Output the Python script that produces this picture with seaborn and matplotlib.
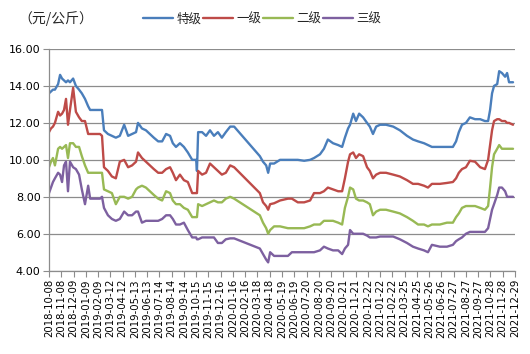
import numpy as np
import pandas as pd
import matplotlib
matplotlib.use("Agg")
import matplotlib.pyplot as plt
import seaborn as sns

# ---------------- data ----------------
start_date = "2018-10-08"
day_offsets = [0, 5, 10, 15, 23, 28, 33, 38, 43, 48, 53, 61, 68, 76, 83, 91, 99, 104, 116, 129,
               134, 139, 149, 159, 169, 179, 190, 200, 210, 220, 225, 235, 245, 255, 265, 276, 286, 296, 306, 313,
               321, 331, 341, 351, 362, 372, 374, 377, 387, 397, 407, 417, 427, 437, 447, 458, 468, 533, 541, 549,
               554, 559, 569, 584, 604, 614, 629, 645, 660, 670, 685, 695, 705, 718, 731, 741, 748, 756, 761, 769,
               776, 784, 794, 804, 811, 819, 827, 837, 852, 870, 887, 905, 920, 933, 948, 958, 968, 988, 1006, 1021,
               1029, 1036, 1044, 1054, 1064, 1077, 1090, 1102, 1110, 1115, 1120, 1125, 1133, 1138, 1145, 1153, 1158, 1163, 1173]

special = [13.6, 13.7, 13.8, 13.8, 14.1, 14.6, 14.4, 14.3, 14.2, 14.3, 14.2, 14.4, 14.0, 13.8, 13.6, 13.3, 12.9, 12.7, 12.7, 12.7,
           12.7, 11.6, 11.4, 11.3, 11.2, 11.3, 11.9, 11.3, 11.4, 11.5, 12.0, 11.7, 11.6, 11.4, 11.2, 11.0, 11.0, 11.4, 11.3, 10.9,
           10.7, 10.9, 10.7, 10.4, 10.0, 10.0, 9.4, 11.5, 11.5, 11.3, 11.6, 11.3, 11.5, 11.2, 11.5, 11.8, 11.8, 10.2, 9.9, 9.7,
           9.3, 9.8, 9.8, 10.0, 10.0, 10.0, 10.0, 9.95, 10.0, 10.1, 10.3, 10.6, 11.1, 10.9, 10.8, 10.7, 11.2, 11.7, 11.9, 12.5,
           12.1, 12.5, 12.3, 12.0, 11.8, 11.4, 11.8, 11.9, 11.9, 11.8, 11.6, 11.3, 11.1, 11.0, 10.9, 10.8, 10.7, 10.7, 10.7, 10.7,
           11.0, 11.5, 11.9, 12.0, 12.3, 12.2, 12.2, 12.1, 12.1, 12.7, 13.6, 14.0, 14.1, 14.8, 14.7, 14.5, 14.7, 14.2, 14.2]

grade1 = [11.5, 11.7, 11.8, 12.0, 12.6, 12.4, 12.5, 12.7, 13.3, 11.9, 12.7, 13.9, 12.6, 12.3, 12.1, 12.1, 11.4, 11.4, 11.4, 11.4,
          11.3, 9.6, 9.4, 9.1, 9.0, 9.9, 10.0, 9.6, 9.7, 9.9, 10.4, 10.1, 9.9, 9.7, 9.5, 9.3, 9.3, 9.5, 9.6, 9.3,
          8.9, 9.2, 8.9, 8.8, 8.2, 8.2, 8.2, 9.4, 9.2, 9.3, 9.8, 9.6, 9.4, 9.2, 9.3, 9.7, 9.6, 8.2, 7.7, 7.5,
          7.3, 7.6, 7.65, 7.8, 7.9, 7.9, 7.7, 7.7, 7.8, 8.2, 8.2, 8.3, 8.5, 8.4, 8.3, 8.3, 9.0, 9.9, 10.3, 10.4,
          10.1, 10.3, 10.2, 9.6, 9.4, 9.0, 9.2, 9.3, 9.3, 9.2, 9.1, 8.9, 8.7, 8.7, 8.6, 8.5, 8.7, 8.7, 8.75, 8.8,
          9.0, 9.3, 9.5, 9.6, 9.95, 9.9, 9.6, 9.5, 10.0, 10.8, 11.6, 12.1, 12.2, 12.2, 12.1, 12.1, 12.0, 12.0, 11.9]

grade2 = [9.6, 9.9, 10.1, 9.7, 10.6, 10.7, 10.6, 10.7, 10.8, 10.1, 10.9, 10.9, 10.7, 10.7, 10.2, 9.7, 9.3, 9.3, 9.3, 9.3,
          9.3, 8.4, 8.3, 8.2, 7.6, 8.0, 8.0, 7.9, 8.0, 8.4, 8.5, 8.6, 8.5, 8.3, 8.1, 7.9, 7.8, 8.3, 8.2, 7.8,
          7.6, 7.6, 7.4, 7.3, 6.9, 6.9, 6.9, 7.6, 7.5, 7.6, 7.7, 7.8, 7.7, 7.7, 7.9, 8.0, 7.9, 7.0, 6.6, 6.3,
          6.0, 6.2, 6.4, 6.4, 6.3, 6.3, 6.3, 6.3, 6.4, 6.5, 6.5, 6.7, 6.7, 6.7, 6.6, 6.5, 7.4, 8.0, 8.5, 8.4,
          7.9, 7.8, 7.8, 7.7, 7.6, 7.0, 7.2, 7.3, 7.3, 7.2, 7.1, 6.9, 6.7, 6.5, 6.5, 6.4, 6.5, 6.5, 6.6, 6.6,
          6.9, 7.1, 7.4, 7.5, 7.5, 7.5, 7.4, 7.3, 7.5, 8.5, 9.6, 10.3, 10.6, 10.8, 10.6, 10.6, 10.6, 10.6, 10.6]

grade3 = [8.2, 8.5, 8.8, 9.0, 9.3, 9.2, 8.8, 9.7, 9.9, 8.3, 9.9, 9.6, 9.5, 9.2, 8.4, 7.6, 8.6, 7.9, 7.9, 7.9,
          8.0, 7.4, 7.0, 6.8, 6.7, 6.8, 7.2, 7.0, 7.0, 7.2, 7.2, 6.6, 6.7, 6.7, 6.7, 6.7, 6.8, 7.0, 7.0, 6.8,
          6.5, 6.5, 6.6, 6.2, 5.8, 5.8, 5.7, 5.7, 5.8, 5.8, 5.8, 5.8, 5.5, 5.5, 5.7, 5.75, 5.75, 5.2, 4.9, 4.6,
          4.45, 5.0, 4.8, 4.8, 4.8, 5.0, 5.0, 5.0, 5.0, 5.0, 5.1, 5.3, 5.2, 5.1, 5.1, 4.9, 5.2, 5.4, 6.2, 6.0,
          6.0, 6.0, 6.0, 5.9, 5.8, 5.8, 5.8, 5.85, 5.85, 5.85, 5.7, 5.5, 5.3, 5.2, 5.1, 5.0, 5.4, 5.3, 5.3, 5.4,
          5.6, 5.7, 5.8, 6.0, 6.1, 6.1, 6.1, 6.1, 6.3, 6.8, 7.3, 7.6, 8.1, 8.5, 8.5, 8.3, 8.0, 8.0, 8.0]

grades = ["特级", "一级", "二级", "三级"]
colors = ["#4A7EBB", "#BE4B48", "#98B954", "#7D60A0"]

tick_labels = ["2018-10-08", "2018-11-08", "2018-12-09", "2019-01-09", "2019-02-09", "2019-03-12",
               "2019-04-12", "2019-05-13", "2019-06-13", "2019-07-14", "2019-08-14", "2019-09-14",
               "2019-10-15", "2019-11-15", "2019-12-16", "2020-01-16", "2020-02-16", "2020-03-18",
               "2020-04-18", "2020-05-19", "2020-06-19", "2020-07-20", "2020-08-20", "2020-09-20",
               "2020-10-21", "2020-11-21", "2020-12-22", "2021-01-22", "2021-02-22", "2021-03-25",
               "2021-04-25", "2021-05-26", "2021-06-26", "2021-07-27", "2021-08-27", "2021-09-27",
               "2021-10-28", "2021-11-28", "2021-12-29"]
y_ticks = [4, 6, 8, 10, 12, 14, 16]
unit_label = "（元/公斤）"

# ---------------- build table ----------------
t0 = pd.Timestamp(start_date)
frames = []
for name, vals in zip(grades, [special, grade1, grade2, grade3]):
    frames.append(pd.DataFrame({"day": day_offsets, "price": vals, "grade": name}))
df = pd.concat(frames, ignore_index=True)

tick_pos = [(pd.Timestamp(s) - t0).days for s in tick_labels]

# ---------------- plot ----------------
sns.set_style("white")
plt.rcParams["font.family"] = ["Noto Sans CJK SC", "DejaVu Sans"]

fig = plt.figure(figsize=(5.30, 3.54), dpi=100)
ax = fig.add_axes([49 / 530, 1 - 270.7 / 354, (515 - 49) / 530, (270.7 - 49) / 354])

sns.lineplot(data=df, x="day", y="price", hue="grade", hue_order=grades,
             palette=dict(zip(grades, colors)), linewidth=1.7, estimator=None,
             sort=False, ax=ax, legend=True)

ax.set_xlim(tick_pos[0], tick_pos[-1])
ax.set_ylim(4, 16)
ax.set_yticks(y_ticks)
ax.set_yticklabels([f"{v:.2f}" for v in y_ticks], fontsize=8, family="DejaVu Sans")
ax.set_xticks(tick_pos)
ax.set_xticklabels(tick_labels, rotation=90, fontsize=7.3, family="DejaVu Sans")
ax.set_xlabel("")
ax.set_ylabel("")

ax.grid(axis="y", color="#8C8C8C", linewidth=0.9)
ax.grid(axis="x", visible=False)
ax.set_axisbelow(True)
for s in ["top", "right"]:
    ax.spines[s].set_visible(False)
for s in ["left", "bottom"]:
    ax.spines[s].set_color("#8C8C8C")
    ax.spines[s].set_linewidth(0.9)
ax.tick_params(axis="both", direction="out", length=4, width=0.8, color="#8C8C8C",
               labelcolor="black", pad=2, left=True, bottom=True)

handles, labels = ax.get_legend_handles_labels()
ax.get_legend().remove()
fig.legend(handles, labels, loc="center", bbox_to_anchor=(262 / 530, 1 - 19 / 354), ncol=4,
           frameon=False, fontsize=9, handlelength=2.4, handletextpad=0.3, columnspacing=0.1)

fig.text(18 / 530, 1 - 19 / 354, unit_label, fontsize=10, va="center", ha="left")

fig.savefig("out.png", dpi=100)
